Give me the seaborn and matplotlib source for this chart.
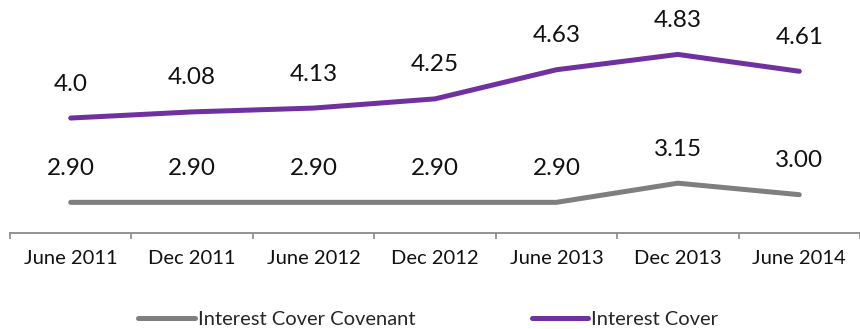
import matplotlib
matplotlib.use("Agg")
import matplotlib.pyplot as plt
import numpy as np
import pandas as pd
import seaborn as sns

categories = ["June 2011", "Dec 2011", "June 2012", "Dec 2012", "June 2013", "Dec 2013", "June 2014"]
covenant = [2.90, 2.90, 2.90, 2.90, 2.90, 3.15, 3.00]
covenant_labels = ["2.90", "2.90", "2.90", "2.90", "2.90", "3.15", "3.00"]
cover = [4.0, 4.08, 4.13, 4.25, 4.63, 4.83, 4.61]
cover_labels = ["4.0", "4.08", "4.13", "4.25", "4.63", "4.83", "4.61"]

series_names = ["Interest Cover Covenant", "Interest Cover"]
colors = {"Interest Cover Covenant": "#7f7f7f", "Interest Cover": "#7030a0"}

df = pd.DataFrame({
    "period": categories * 2,
    "value": covenant + cover,
    "series": [series_names[0]] * len(categories) + [series_names[1]] * len(categories),
})
df["x"] = list(range(len(categories))) * 2

sns.set_style("white")
plt.rcParams["font.family"] = ["Lato", "DejaVu Sans"]

fig = plt.figure(figsize=(8.6, 3.29), dpi=100)
ax = fig.add_axes([10 / 860, 1 - 233 / 329, 850 / 860, 233 / 329])

sns.lineplot(data=df, x="x", y="value", hue="series", palette=colors,
             hue_order=series_names, linewidth=3.6, ax=ax, legend=False,
             solid_capstyle="round")

for ys, labs in [(covenant, covenant_labels), (cover, cover_labels)]:
    for xi, (yi, lab) in enumerate(zip(ys, labs)):
        ax.annotate(lab, (xi, yi), xytext=(0, 34), textcoords="offset pixels",
                    ha="center", va="center", fontsize=17.5, color="#111111")

ax.set_xlim(-0.5, len(categories) - 0.5)
ax.set_ylim(2.5, 5.54)
ax.set_xticks(range(len(categories)))
ax.set_xticklabels(categories, fontsize=14.5, color="#111111")
ax.set_xticks(np.arange(-0.5, len(categories), 1), minor=True)
ax.tick_params(axis="x", which="major", length=0, pad=12, bottom=True)
ax.tick_params(axis="x", which="minor", length=4, width=1.2, color="#8a8a8a",
               direction="out", bottom=True)
ax.set_yticks([])
ax.set_xlabel("")
ax.set_ylabel("")
for s in ["top", "right", "left"]:
    ax.spines[s].set_visible(False)
ax.spines["bottom"].set_color("#8a8a8a")
ax.spines["bottom"].set_linewidth(1.3)

handles = [plt.Line2D([], [], color=colors[n], linewidth=3.6) for n in series_names]
fig.legend(handles, series_names, loc="center", bbox_to_anchor=(0.498, 0.03),
           ncol=2, frameon=False, fontsize=14.5, handlelength=2.8, handletextpad=0.15,
           columnspacing=5.8)

fig.savefig("out.png", dpi=100)
